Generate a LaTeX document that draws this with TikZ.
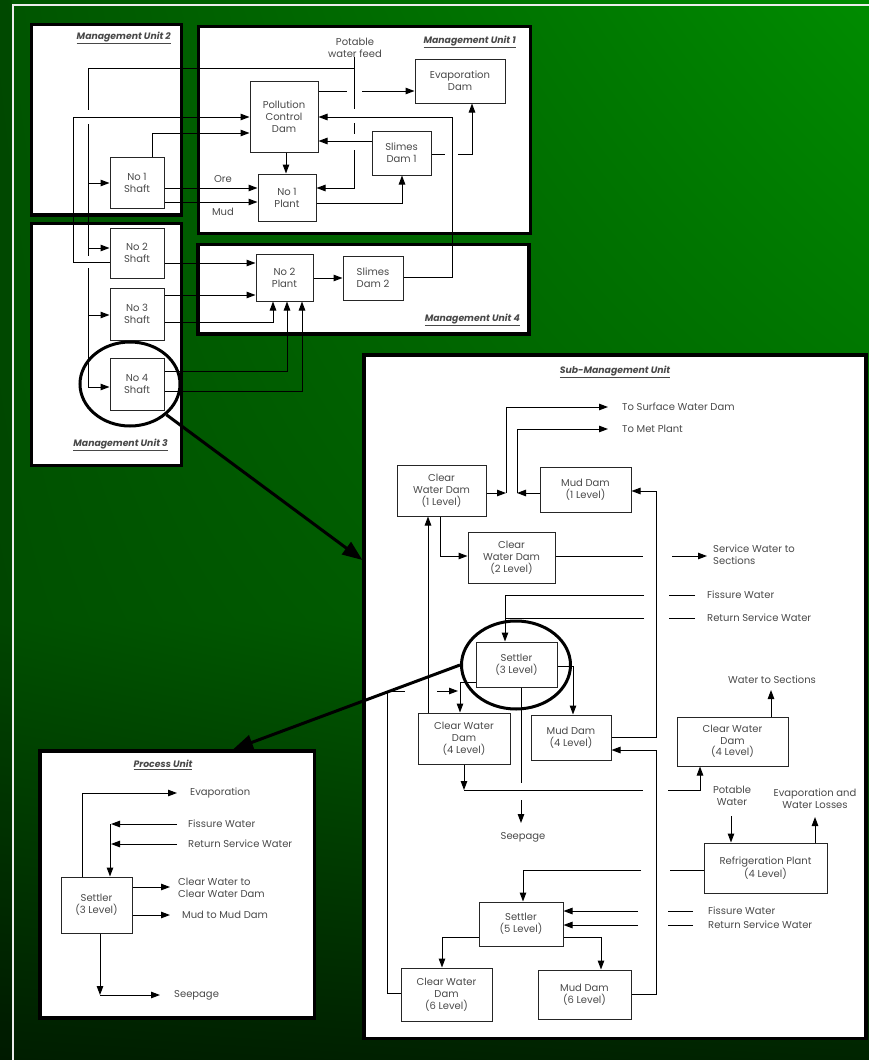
\documentclass[tikz,border=0pt]{standalone}
\usepackage{fontspec}
\setmainfont{Poppins}
\usetikzlibrary{arrows.meta,shapes.geometric,shadings}
\definecolor{txt}{HTML}{4A4A4A}
\definecolor{lab}{HTML}{1A1A1A}
\definecolor{bgUL}{RGB}{0,84,0}
\definecolor{bgUR}{RGB}{0,140,0}
\definecolor{bgML}{RGB}{0,80,0}
\definecolor{bgMR}{RGB}{0,104,0}
\definecolor{bgLL}{RGB}{0,30,0}
\definecolor{bgLR}{RGB}{0,36,0}
\newcommand{\ul}[1]{\underline{#1}}
\begin{document}
\begin{tikzpicture}[x=1pt,y=-1pt,
  box/.style={draw=black!85, line width=1pt, fill=white, inner sep=0pt, align=center, text=txt, font=\fontsize{10}{12}\selectfont},
  unit/.style={draw=black, line width=3.2pt, fill=white, inner sep=0pt},
  lbl/.style={font=\fontsize{9.3}{11}\selectfont\bfseries\itshape, text=lab!80, inner sep=0pt},
  tx/.style={font=\fontsize{10}{12}\selectfont, text=txt, inner sep=0pt, align=left},
  txc/.style={tx, align=center},
  ln/.style={draw=black, line width=1pt},
  arr/.style={ln, -{Triangle[length=9pt,width=6.5pt]}},
  big/.style={draw=black, line width=3pt, -{Triangle[length=20pt,width=15pt]}},
  ring/.style={ellipse, draw=black, line width=3pt, inner sep=0pt},
]
\useasboundingbox (0,0) rectangle (869,1060);
% background
\shade[upper left=bgUL, upper right=bgUR, lower left=bgML, lower right=bgMR] (0,0) rectangle (869,620);
\shade[upper left=bgML, upper right=bgMR, lower left=bgLL, lower right=bgLR] (0,620) rectangle (869,1060);
\fill[black, opacity=0.12] (0,0) rectangle (12,1060);
\draw[gray!15, line width=2pt] (12,5) -- (869,5);
\draw[gray!15, line width=2pt] (13,4) -- (13,1060);

% units
\node[unit, minimum width=150, minimum height=190.7] (mu2) at (106.5,119.65) {};
\node[unit, minimum width=332.5, minimum height=207] (mu1) at (196.5,25) [anchor=north west] {};
\node[unit, minimum width=150, minimum height=242] (mu3) at (106.5,344.5) {};
\node[unit, minimum width=331, minimum height=89.5] (mu4) at (363.5,289.25) {};
\node[unit, minimum width=502, minimum height=683.5] (sub) at (615,696.75) {};
\node[unit, minimum width=274.5, minimum height=267] (pu) at (177.25,884.5) {};

\node[lbl, anchor=east] (l2) at (171,38) {\ul{Management Unit 2}};
\node[lbl, anchor=east] (l1) at (516,42) {\ul{Management Unit 1}};
\node[lbl, anchor=east] (l3) at (168,445) {\ul{Management Unit 3}};
\node[lbl, anchor=east] (l4) at (520,320) {\ul{Management Unit 4}};
\node[lbl] (ls) at (615,372) {\ul{Sub-Management Unit}};
\node[lbl] (lp) at (163,765) {\ul{Process Unit}};

% management unit nodes
\node[box, minimum width=54, minimum height=51] (n1sh) at (137,182.5) {No 1\\Shaft};
\node[box, minimum width=68, minimum height=71] (pcd) at (284,116.5) {Pollution\\Control\\Dam};
\node[box, minimum width=58, minimum height=47] (n1pl) at (287,197.5) {No 1\\Plant};
\node[box, minimum width=59, minimum height=44] (sd1) at (401.5,153) {Slimes\\Dam 1};
\node[box, minimum width=90, minimum height=44] (evap) at (460,81) {Evaporation\\Dam};
\node[txc] (pot) at (355,47.5) {Potable\\water feed};
\node[tx] (ore) at (223,179) {Ore};
\node[tx] (mud) at (223,212) {Mud};
\node[box, minimum width=54, minimum height=50] (n2sh) at (137,253) {No 2\\Shaft};
\node[box, minimum width=54, minimum height=52] (n3sh) at (137,314) {No 3\\Shaft};
\node[box, minimum width=54, minimum height=52] (n4sh) at (137,384) {No 4\\Shaft};
\node[box, minimum width=57, minimum height=47] (n2pl) at (284.5,277.5) {No 2\\Plant};
\node[box, minimum width=60, minimum height=44] (sd2) at (373,278) {Slimes\\Dam 2};
\node[ring, minimum width=100, minimum height=84] (e4) at (130,384) {};

% MU connectors
\draw[ln] (88,68) -- (354,68);
\draw[ln] (pot.south -| 354,0) -- (354,109);
\draw[ln] (354,123) -- (354,134);
\draw[arr] (354,150) -- (354,188) -- (n1pl.east |- 0,188);
\draw[ln] (88,68) -- (88,110);
\draw[ln] (88,124) -- (88,256);
\draw[ln] (88,268) -- (88,387);
\draw[arr] (88,183) -- (n1sh.west |- 0,183);
\draw[arr] (88,248) -- (n2sh.west |- 0,248);
\draw[arr] (88,315) -- (n3sh.west |- 0,315);
\draw[arr] (88,387) -- (n4sh.west |- 0,387);
\draw[ln] (pcd.east |- 0,91) -- (347,91);
\draw[arr] (362,91) -- (evap.west |- 0,91);
\draw[arr] (sd2.east |- 0,277) -- (452,277) -- (452,117) -- (pcd.east |- 0,117);
\draw[arr] (sd1.west |- 0,141) -- (pcd.east |- 0,141);
\draw[ln] (sd1.east |- 0,154) -- (445,154);
\draw[arr] (458,154) -- (472,154) -- (evap.south -| 472,0);
\draw[arr] (pcd.south -| 286,0) -- (n1pl.north -| 286,0);
\draw[arr] (n1pl.east |- 0,203) -- (402,203) -- (sd1.south -| 402,0);
\draw[arr] (n1sh.east |- 0,188) -- (n1pl.west |- 0,188);
\draw[arr] (n1sh.east |- 0,202) -- (n1pl.west |- 0,202);
\draw[arr] (n1sh.north -| 152,0) -- (152,133) -- (pcd.west |- 0,133);
\draw[arr] (n2sh.west |- 0,262) -- (73,262) -- (73,117) -- (pcd.west |- 0,117);
\draw[arr] (n2sh.east |- 0,263) -- (n2pl.west |- 0,263);
\draw[arr] (n3sh.east |- 0,295) -- (n2pl.west |- 0,295);
\draw[arr] (n3sh.east |- 0,322) -- (273,322) -- (n2pl.south -| 273,0);
\draw[arr] (n4sh.east |- 0,371) -- (287,371) -- (n2pl.south -| 287,0);
\draw[arr] (n4sh.east |- 0,391) -- (302,391) -- (n2pl.south -| 302,0);
\draw[arr] (n2pl.east |- 0,278) -- (sd2.west |- 0,278);
\draw[big] (e4.south east) -- (sub.west |- 0,560);

% sub-management nodes
\node[box, minimum width=89, minimum height=51] (cw1) at (441.5,490.5) {Clear\\Water Dam\\(1 Level)};
\node[box, minimum width=91, minimum height=45] (md1) at (585.5,489.5) {Mud Dam\\(1 Level)};
\node[box, minimum width=87, minimum height=51] (cw2) at (511.5,557.5) {Clear\\Water Dam\\(2 Level)};
\node[box, minimum width=81, minimum height=45] (st3) at (516.5,664.5) {Settler\\(3 Level)};
\node[box, minimum width=92, minimum height=51] (cw4) at (464,738.5) {Clear Water\\Dam\\(4 Level)};
\node[box, minimum width=80, minimum height=45] (md4) at (571,737.5) {Mud Dam\\(4 Level)};
\node[box, minimum width=111, minimum height=49] (cw4r) at (732.5,741.5) {Clear Water\\Dam\\[-1pt](4 Level)};
\node[box, minimum width=123, minimum height=50] (rp) at (765.5,868) {Refrigeration Plant\\(4 Level)};
\node[box, minimum width=84, minimum height=44] (st5) at (521,924) {Settler\\(5 Level)};
\node[box, minimum width=91, minimum height=53] (cw6) at (446.5,994.5) {Clear Water\\Dam\\(6 Level)};
\node[box, minimum width=93, minimum height=49] (md6) at (584.5,994.5) {Mud Dam\\(6 Level)};
\node[ring, minimum width=109, minimum height=88] (e3) at (516,665) {};

\node[tx, anchor=west] (tsw) at (622,407) {To Surface Water Dam};
\node[tx, anchor=west] (tmp) at (622,429) {To Met Plant};
\node[tx, anchor=west] (sws) at (713,555) {Service Water to\\Sections};
\node[tx, anchor=west] (fw3) at (707,595) {Fissure Water};
\node[tx, anchor=west] (rs3) at (707,618) {Return Service Water};
\node[txc] (wts) at (772,680) {Water to Sections};
\node[txc] (sp3) at (523,837) {Seepage};
\node[txc] (pw) at (732,795.5) {Potable\\Water};
\node[txc] (ewl) at (815,799) {Evaporation and\\Water Losses};
\node[tx, anchor=west] (fw5) at (708,911) {Fissure Water};
\node[tx, anchor=west] (rs5) at (708,925) {Return Service Water};

\coordinate (j1) at (506,493);
\coordinate (j2) at (517,493);
\draw[arr] (cw1.east |- j1) -- (j1);
\draw[arr] (j1) -- (506,407) -- (tsw.west -| 608,0);
\draw[arr] (md1.west |- j2) -- (j2);
\draw[arr] (j2) -- (517,429) -- (tmp.west -| 608,0);
\draw[arr] (cw1.south -| 440,0) -- (440,556) -- (cw2.west |- 0,556);
\draw[ln] (cw2.east |- 0,556) -- (643,556);
\draw[arr] (672,556) -- (707,556);
\draw[arr] (md4.east |- 0,737) -- (656,737) -- (656,491) -- (md1.east |- 0,491);
\draw[ln] (695,595) -- (669,595);
\draw[arr] (644,595) -- (505,595) -- (st3.north -| 505,0);
\draw[ln] (695,618) -- (669,618);
\draw[ln] (644,618) -- (505,618);
\draw[arr] (st3.west |- 0,682) -- (460,682) -- (cw4.north -| 460,0);
\draw[ln] (cw6.west |- 0,993) -- (387,993) -- (387,691) -- (405,691);
\draw[arr] (437,691) -- (458,691);
\draw[arr] (cw4.north -| 428,0) -- (cw1.south -| 428,0);
\draw[arr] (st3.east |- 0,666) -- (573,666) -- (md4.north -| 573,0);
\draw[ln] (st3.south -| 521,0) -- (521,783);
\draw[arr] (521,800) -- (521,823);
\draw[arr] (cw4.south -| 464,0) -- (464,790);
\draw[ln] (464,790) -- (643,790);
\draw[arr] (668,790) -- (700,790) -- (cw4r.south -| 700,0);
\draw[arr] (cw4r.north -| 771,0) -- (771,690);
\draw[arr] (md6.east |- 0,994) -- (656,994) -- (656,750) -- (md4.east |- 0,750);
\draw[ln] (rp.west |- 0,870) -- (670,870);
\draw[arr] (641,870) -- (523,870) -- (st5.north -| 523,0);
\draw[ln] (693,911) -- (668,911);
\draw[arr] (638,911) -- (st5.east |- 0,911);
\draw[ln] (693,925) -- (668,925);
\draw[arr] (638,925) -- (st5.east |- 0,925);
\draw[arr] (731,816) -- (rp.north -| 731,0);
\draw[arr] (rp.north -| 815,0) -- (815,817);
\draw[arr] (st5.west |- 0,937) -- (442,937) -- (cw6.north -| 442,0);
\draw[arr] (st5.east |- 0,937) -- (601,937) -- (md6.north -| 601,0);
\draw[big] (e3.west) -- (pu.north -| 233,0);

% process unit
\node[box, minimum width=71, minimum height=56] (pst) at (96.5,905) {Settler\\(3 Level)};
\node[tx, anchor=west] (pev) at (190,793) {Evaporation};
\node[tx, anchor=west] (pfw) at (188,824) {Fissure Water};
\node[tx, anchor=west] (prs) at (188,844) {Return Service Water};
\node[tx, anchor=west] (pcw) at (178,888) {Clear Water to\\Clear Water Dam};
\node[tx, anchor=west] (pmd) at (182,915) {Mud to Mud Dam};
\node[tx, anchor=west] (psp) at (174,995) {Seepage};
\draw[arr] (pst.north -| 82,0) -- (82,793) -- (pev.west -| 177,0);
\draw[arr] (pfw.west -| 177,0) -- (111,824);
\draw[arr] (prs.west -| 177,0) -- (111,844);
\draw[arr] (110,824) -- (pst.north -| 110,0);
\draw[arr] (pst.east |- 0,887) -- (170,887);
\draw[arr] (pst.east |- 0,915) -- (170,915);
\draw[arr] (pst.south -| 100,0) -- (100,995);
\draw[arr] (100,995) -- (psp.west -| 160,0);
\end{tikzpicture}
\end{document}
